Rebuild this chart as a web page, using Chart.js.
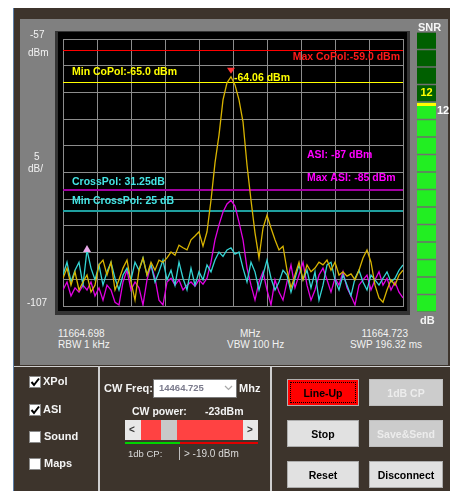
<!DOCTYPE html>
<html><head><meta charset="utf-8">
<script src="https://cdn.jsdelivr.net/npm/chart.js@4/dist/chart.umd.min.js"></script>
<style>
html,body{margin:0;padding:0;background:#fff;width:452px;height:491px;overflow:hidden;font-family:"Liberation Sans",Arial,sans-serif;}
.a{position:absolute;}
.t{position:absolute;white-space:nowrap;line-height:12px;height:12px;}
.w{color:#f2f2f2;font-size:10px;}
.b{color:#f4f4f4;font-size:10.5px;font-weight:bold;}
.cb{position:absolute;width:12px;height:12px;background:#fff;border:1px solid #8a8a8a;box-sizing:border-box;}
.btn{position:absolute;width:72px;height:27px;box-sizing:border-box;background:#e1e1e1;border:1px solid #adadad;font-weight:bold;font-size:10.5px;color:#000;display:flex;align-items:center;justify-content:center;}
.dis{background:#cccccc;color:#ececec;border-color:#bdbdbd;}
</style></head>
<body>
<div class="a" style="left:13px;top:8px;width:437px;height:483px;background:#3d342c;border-left:1px solid #5b7ea6;box-sizing:border-box;"></div>
<div class="a" style="left:20px;top:19px;width:428px;height:346px;background:#808080;"></div>
<div class="a" style="left:14px;top:366px;width:436px;height:1px;background:#d0d0d0;"></div>
<div class="a" style="left:98px;top:367px;width:2px;height:124px;background:#cfcfcf;"></div>
<div class="a" style="left:270px;top:367px;width:2px;height:124px;background:#cfcfcf;"></div>

<canvas id="spec" class="a" width="395" height="300" style="left:20px;top:19px;width:395px;height:300px;"></canvas>
<canvas id="snr" class="a" width="40" height="290" style="left:412px;top:28px;width:40px;height:290px;"></canvas>

<div class="t w" style="left:30px;top:29px;">-57</div>
<div class="t w" style="left:28px;top:47px;">dBm</div>
<div class="t w" style="left:34px;top:151px;">5</div>
<div class="t w" style="left:28px;top:163px;">dB/</div>
<div class="t w" style="left:27px;top:297px;">-107</div>
<div class="t w" id="f0" style="left:58px;top:328px;"></div>
<div class="t w" id="b0" style="left:58px;top:339px;"></div>
<div class="t w" id="f1" style="left:240px;top:328px;"></div>
<div class="t w" id="b1" style="left:227px;top:339px;"></div>
<div class="t w" id="f2" style="right:44px;top:328px;"></div>
<div class="t w" id="b2" style="right:30px;top:339px;"></div>
<div class="t b" style="left:418px;top:21px;font-size:11px;">SNR</div>
<div class="t b" style="left:420px;top:314px;font-size:11px;">dB</div>

<!-- left checkbox group -->
<div class="cb" style="left:29px;top:376px;"><svg width="10" height="10" style="position:absolute;left:0;top:0"><path d="M1.5 5 L4 8 L9 1.5" stroke="#000" stroke-width="2" fill="none"/></svg></div>
<div class="t b" style="left:43px;top:375px;font-size:11px;">XPol</div>
<div class="cb" style="left:29px;top:404px;"><svg width="10" height="10" style="position:absolute;left:0;top:0"><path d="M1.5 5 L4 8 L9 1.5" stroke="#000" stroke-width="2" fill="none"/></svg></div>
<div class="t b" style="left:43px;top:403px;font-size:11px;">ASI</div>
<div class="cb" style="left:29px;top:431px;"></div>
<div class="t b" style="left:44px;top:430px;font-size:11px;">Sound</div>
<div class="cb" style="left:29px;top:458px;"></div>
<div class="t b" style="left:44px;top:457px;font-size:11px;">Maps</div>

<!-- middle group -->
<div class="t b" style="left:104px;top:382px;font-size:11px;">CW Freq:</div>
<div class="a" style="left:153px;top:379px;width:84px;height:19px;background:#fff;border:1px solid #7a7a7a;box-sizing:border-box;"></div>
<div class="t" style="left:159px;top:382px;font-size:9.5px;font-weight:bold;color:#7a7a8c;">14464.725</div>
<svg class="a" style="left:224px;top:385px" width="9" height="6"><path d="M1 1 L4.5 4.5 L8 1" stroke="#a8a8a8" stroke-width="1.2" fill="none"/></svg>
<div class="t b" style="left:239px;top:382px;font-size:11px;">Mhz</div>
<div class="t b" style="left:132px;top:405px;">CW power:</div>
<div class="t b" style="left:205px;top:405px;">-23dBm</div>
<div class="a" style="left:125px;top:420px;width:133px;height:20px;background:#ff4242;"></div>
<div class="a" style="left:125px;top:420px;width:16px;height:20px;background:#e8e8e8;"></div>
<div class="t" style="left:129px;top:424px;font-size:10px;font-weight:bold;color:#333;">&lt;</div>
<div class="a" style="left:161px;top:420px;width:16px;height:20px;background:#c8c8c8;"></div>
<div class="a" style="left:243px;top:420px;width:15px;height:20px;background:#e8e8e8;"></div>
<div class="t" style="left:247px;top:424px;font-size:10px;font-weight:bold;color:#333;">&gt;</div>
<div class="a" style="left:125px;top:442px;width:55px;height:2px;background:#00d400;"></div>
<div class="a" style="left:180px;top:442px;width:78px;height:2px;background:#e00000;"></div>
<div class="t" style="left:128px;top:448px;font-size:9.5px;color:#dadada;">1db CP:</div>
<div class="a" style="left:179px;top:447px;width:1px;height:13px;background:#bdbdbd;"></div>
<div class="t" style="left:184px;top:448px;font-size:10px;color:#dadada;">&gt; -19.0 dBm</div>

<!-- right buttons -->
<div class="btn" style="left:287px;top:379px;background:#ff0000;border:1px solid #b0b0b0;"><div style="position:absolute;left:2px;top:2px;right:2px;bottom:2px;border:1px dotted #000;"></div>Line-Up</div>
<div class="btn dis" style="left:369px;top:379px;width:74px;">1dB CP</div>
<div class="btn" style="left:287px;top:420px;">Stop</div>
<div class="btn dis" style="left:369px;top:420px;width:74px;">Save&amp;Send</div>
<div class="btn" style="left:287px;top:461px;">Reset</div>
<div class="btn" style="left:369px;top:461px;width:74px;">Disconnect</div>

<script>
// ---- data ----
const freqLabels = ['11664.698', 'MHz', '11664.723'];
const bwLabels = ['RBW 1 kHz', 'VBW 100 Hz', 'SWP 196.32 ms'];
const spanKHz = 25;
const yMin = -107, yMax = -57, yStep = 5;

const coPol = [-101.8,-99.9,-103.1,-100.6,-104,-102.5,-101.2,-104.4,-103.1,-99.3,
 -98.4,-101.2,-98.8,-104,-102.1,-99.9,-98.4,-102.5,-105.9,-100.3,
 -98,-101.2,-98.8,-100.3,-98.4,-98.8,-98,-96.9,-97.5,-95.6,
 -96.1,-96.5,-94.6,-93.9,-93.1,-95.8,-93.1,-87.2,-80.2,-75,
 -68.4,-65.2,-64.06,-65.6,-68.4,-72.5,-80.6,-87.2,-93.3,-98,
 -92.4,-90,-92.4,-94.6,-96.5,-95.8,-100.3,-103.6,-101.2,-98.8,
 -102.1,-99.3,-100.6,-99.9,-98.8,-99.3,-98.4,-100.3,-98.8,-101.2,
 -100.6,-101.4,-101,-102.1,-100.3,-98,-96.5,-98.8,-103.1,-105.5,
 -106.3,-104,-102.1,-103.1,-101.2,-100.3];
const asi = [-104,-102.5,-105.1,-103.6,-104.4,-103.1,-104,-102.5,-105.1,-103.6,
 -105.9,-103.1,-104,-106.3,-106.8,-102.5,-100.3,-104,-102.5,-103.6,
 -106.8,-102.1,-99.3,-101.8,-105.9,-106.8,-102.5,-101.8,-103.1,-102.1,
 -104,-103.1,-102.5,-103.3,-102.1,-102.9,-101.8,-98.8,-94.6,-91.8,
 -89.4,-87.9,-87.2,-88.3,-91.3,-94.6,-99.9,-103.1,-105.9,-102.5,
 -100.6,-104,-106.8,-102.1,-104.4,-105.9,-102.5,-99.3,-103.6,-101.2,
 -98.8,-103.1,-105.9,-104,-101.2,-99.9,-102.1,-104.4,-101.8,-103.1,
 -100.6,-103.6,-105.1,-106.8,-103.1,-102.1,-101.2,-104,-102.1,-100.6,
 -103.1,-101.8,-104,-102.5,-104.4,-105.5];
const crossPol = [-101.2,-98.8,-102.5,-100.3,-98.8,-103.1,-96.5,-99.9,-102.1,-99.3,
 -103.1,-100.6,-98.8,-101.8,-104,-101.2,-99.9,-102.1,-98.8,-100.3,
 -98,-101.2,-99.3,-102.5,-100.6,-98.4,-102.1,-100.3,-103.1,-98.8,
 -101.8,-104,-99.9,-103.1,-100.6,-102.1,-99.3,-100.6,-98.4,-96.9,
 -97.7,-96.5,-96.1,-97.3,-96.9,-99.9,-102.5,-98.8,-100.6,-104,
 -101.2,-98.4,-101.8,-104,-102.5,-100.3,-101.2,-104.4,-101.8,-99.3,
 -102.1,-100.3,-103.6,-100.6,-105.9,-103.1,-99.3,-98.8,-102.1,-104,
 -101.2,-103.1,-105.1,-101.8,-100.3,-102.5,-104,-101.2,-102.1,-103.1,
 -101.8,-100.6,-102.5,-101.8,-100.3,-99.3];

const maxCoPol = -59.0, minCoPol = -65.0;
const maxAsi = -85, asiLevel = -87;
const peakLevel = -64.06, crossPolDb = 31.25, minCrossPolDb = 25;
const peakIndex = 42, crossMarkerIndex = 6;
const snrValue = 12, snrSegments = 16;

// ---- build chart ----
document.getElementById('f0').textContent = freqLabels[0];
document.getElementById('f1').textContent = freqLabels[1];
document.getElementById('f2').textContent = freqLabels[2];
document.getElementById('b0').textContent = bwLabels[0];
document.getElementById('b1').textContent = bwLabels[1];
document.getElementById('b2').textContent = bwLabels[2];

const last = coPol.length - 1;
const xAt = i => i * spanKHz / last;
const pts = arr => arr.map((v, i) => ({x: xAt(i), y: v}));
const minCrossLine = peakLevel - minCrossPolDb;
const limitLines = [
  {v: maxCoPol, c: '#ff0000', w: 1},
  {v: minCoPol, c: '#ffff00', w: 1},
  {v: maxAsi, c: '#a000a0', w: 2},
  {v: minCrossLine, c: '#1f9f9f', w: 2}
];

function lineDs(data, color, w){
  return {data, borderColor: color, borderWidth: w, pointRadius: 0, tension: 0, fill: false};
}

const bgPlugin = {
  id: 'bg',
  beforeDraw(chart){
    const {ctx, chartArea: a} = chart;
    ctx.save();
    ctx.fillStyle = '#343434';
    ctx.fillRect(a.left - 8, a.top - 8, a.right - a.left + 15, a.bottom - a.top + 17);
    ctx.fillStyle = '#000';
    ctx.fillRect(a.left - 5, a.top - 7, a.right - a.left + 9, a.bottom - a.top + 12);
    ctx.restore();
  },
  beforeDatasetsDraw(chart){
    const {ctx, chartArea: a, scales: {y}} = chart;
    ctx.save();
    limitLines.forEach(l => {
      const py = Math.round(y.getPixelForValue(l.v));
      ctx.fillStyle = l.c;
      ctx.fillRect(a.left, py, a.right - a.left, l.w);
    });
    ctx.restore();
  }
};

const textPlugin = {
  id: 'txt',
  afterDatasetsDraw(chart){
    const {ctx, scales: {x, y}} = chart;
    const font = 'bold 10.5px "Liberation Sans", Arial, sans-serif';
    ctx.save();
    ctx.font = font;
    ctx.textBaseline = 'middle';
    function txt(s, px, py, c, align){ ctx.fillStyle = c; ctx.textAlign = align || 'left'; ctx.fillText(s, px, py); }
    const X0 = x.left + 9;
    txt('Max CoPol:' + maxCoPol.toFixed(1) + ' dBm', x.right - 3, y.getPixelForValue(maxCoPol) + 7, '#ff1a1a', 'right');
    txt('Min CoPol:' + minCoPol.toFixed(1) + ' dBm', X0, y.getPixelForValue(minCoPol) - 10, '#ffff00');
    const px = x.getPixelForValue(xAt(peakIndex)), py = y.getPixelForValue(peakLevel);
    txt(peakLevel.toFixed(2) + ' dBm', px + 3, py + 1, '#ffff00');
    txt('ASI: ' + asiLevel + ' dBm', x.right - 96, y.getPixelForValue(asiLevel) - 44, '#ff00ff');
    txt('Max ASI: ' + maxAsi + ' dBm', x.right - 96, y.getPixelForValue(maxAsi) - 10, '#ff00ff');
    txt('CrossPol: ' + crossPolDb.toFixed(2) + 'dB', X0, y.getPixelForValue(maxAsi) - 6, '#44e4e4');
    txt('Min CrossPol: ' + minCrossPolDb + ' dB', X0, y.getPixelForValue(minCrossLine) - 9, '#44e4e4');
    ctx.fillStyle = '#ff3434';
    ctx.beginPath(); ctx.moveTo(px - 4, py - 9); ctx.lineTo(px + 4, py - 9); ctx.lineTo(px, py - 3); ctx.closePath(); ctx.fill();
    const cx = x.getPixelForValue(xAt(crossMarkerIndex)), cy = y.getPixelForValue(crossPol[crossMarkerIndex]);
    ctx.fillStyle = '#e8a8e8';
    ctx.beginPath(); ctx.moveTo(cx - 4, cy + 2); ctx.lineTo(cx + 4, cy + 2); ctx.lineTo(cx, cy - 5); ctx.closePath(); ctx.fill();
    ctx.restore();
  }
};

const gridColor = '#8c8c8c';
new Chart(document.getElementById('spec'), {
  type: 'line',
  data: {datasets: [
    lineDs(pts(coPol), '#d8b400', 1.3),
    lineDs(pts(crossPol), '#34d4d4', 1.3),
    lineDs(pts(asi), '#e000e0', 1.3)
  ]},
  options: {
    responsive: false, animation: false, events: [],
    layout: {padding: {left: 43, top: 20, right: 12, bottom: 13}},
    plugins: {legend: {display: false}, tooltip: {enabled: false}},
    scales: {
      x: {type: 'linear', min: 0, max: spanKHz, ticks: {display: false, stepSize: spanKHz / 10},
          grid: {color: gridColor, drawTicks: false}, border: {color: gridColor}},
      y: {type: 'linear', min: yMin, max: yMax, ticks: {display: false, stepSize: yStep},
          grid: {color: gridColor, drawTicks: false}, border: {color: gridColor}}
    }
  },
  plugins: [bgPlugin, textPlugin]
});

// ---- SNR meter ----
const snrPlugin = {
  id: 'snrmark',
  afterDatasetsDraw(chart){
    const {ctx, chartArea: a, scales: {y}} = chart;
    const yy = y.getPixelForValue(snrValue);
    ctx.save();
    ctx.fillStyle = '#ffff00';
    ctx.fillRect(a.left, yy + 1, a.right - a.left, 3);
    ctx.font = 'bold 11px "Liberation Sans", Arial, sans-serif';
    ctx.textBaseline = 'middle'; ctx.textAlign = 'center';
    ctx.fillStyle = '#ffff00';
    ctx.fillText(String(snrValue), (a.left + a.right) / 2, y.getPixelForValue(snrValue + 0.5));
    ctx.fillStyle = '#ffffff'; ctx.textAlign = 'left';
    ctx.fillText(String(snrValue), a.right + 1, yy + 9);
    ctx.restore();
  }
};
const snrSets = [];
for (let k = 0; k < snrSegments; k++) {
  snrSets.push({data: [1], backgroundColor: k < snrValue ? '#22ee22' : '#005f00',
    borderColor: '#6e6e6e', borderWidth: {top: 1, bottom: 1, left: 0, right: 0}, borderSkipped: false,
    barPercentage: 1, categoryPercentage: 1});
}
new Chart(document.getElementById('snr'), {
  type: 'bar',
  data: {labels: ['SNR'], datasets: snrSets},
  options: {
    responsive: false, animation: false, events: [],
    layout: {padding: {left: 5, right: 16, top: 4, bottom: 6}},
    plugins: {legend: {display: false}, tooltip: {enabled: false}},
    scales: {x: {display: false, stacked: true}, y: {display: false, stacked: true, min: 0, max: snrSegments}}
  },
  plugins: [snrPlugin]
});
</script>
</body></html>
